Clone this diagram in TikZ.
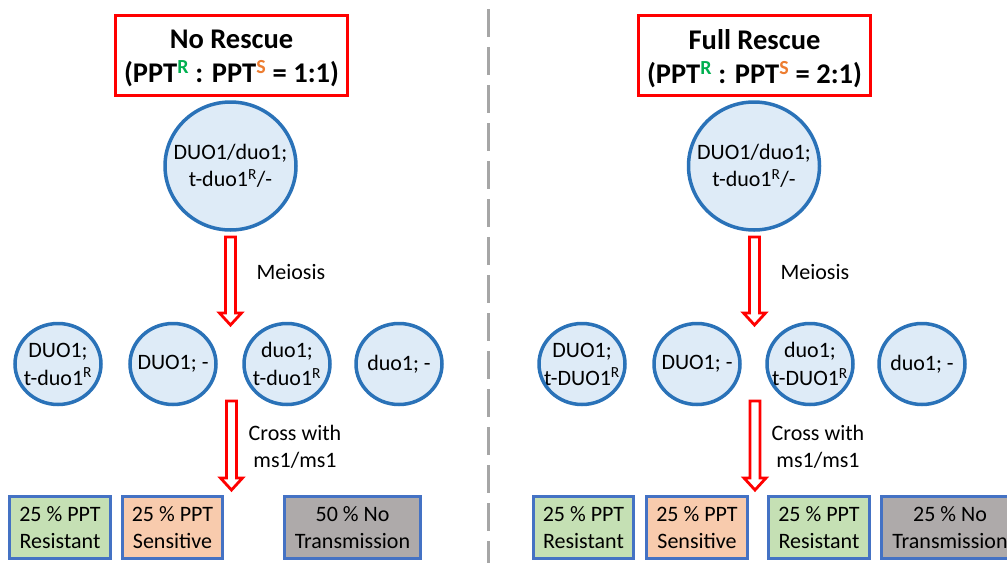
\documentclass[tikz,border=0pt]{standalone}
\usepackage{fontspec}
\setmainfont{Carlito}
\usetikzlibrary{shapes.geometric,calc}
\definecolor{circb}{HTML}{2A72B8}
\definecolor{circf}{HTML}{DEEBF7}
\definecolor{boxb}{HTML}{4472C4}
\definecolor{gfill}{HTML}{C5E0B4}
\definecolor{ofill}{HTML}{F8CBAD}
\definecolor{kfill}{HTML}{AEAAAA}
\definecolor{rgreen}{HTML}{00B050}
\definecolor{sorange}{HTML}{ED7D31}
\definecolor{dashg}{HTML}{A6A6A6}
\newcommand\blockarrow[2]{\draw[blockarr] let \p1=(#1), \p2=(#2) in
  (\x1-5pt,\y1) -- (\x1-5pt,\y2+12pt) -- (\x1-11pt,\y2+12pt) -- (\x1,\y2)
  -- (\x1+11pt,\y2+12pt) -- (\x1+5pt,\y2+12pt) -- (\x1+5pt,\y1) -- cycle;}
\tikzset{
  bodytext/.style={font=\fontsize{22}{27}\selectfont, align=center, text=black},
  titlebox/.style={draw=red, line width=3pt, minimum width=232pt, minimum height=80pt, inner sep=0pt},
  titletext/.style={align=center, font=\fontsize{28.5}{34}\selectfont\bfseries, inner sep=0pt, yshift=-3pt},
  bigcirc/.style={ellipse, draw=circb, fill=circf, line width=3.5pt, minimum width=131pt,
    minimum height=128pt, inner sep=0pt},
  smallcirc/.style={ellipse, draw=circb, fill=circf, line width=3.5pt, minimum width=86pt,
    minimum height=81pt, inner sep=0pt},
  ctext/.style={bodytext, inner sep=0pt},
  sctext/.style={bodytext, inner sep=0pt, font=\fontsize{22}{28}\selectfont},
  resbox/.style={draw=boxb, line width=3pt, minimum height=62pt, bodytext, inner sep=0pt},
  blockarr/.style={draw=red, line width=2.8pt, fill=white, line join=miter},
  lbl/.style={bodytext}
}
\begin{document}
\begin{tikzpicture}[x=1pt,y=-1pt]
\useasboundingbox (0,0) rectangle (1007,563);
\clip (0,0) rectangle (1007,563);
\fill[white] (0,0) rectangle (1007,563);
% divider
\coordinate (dtop) at (488,9);
\coordinate (dbot) at (488,563);
\draw[dashg, line width=3pt, dash pattern=on 28pt off 10pt] (dtop) -- (dbot);

% ---------------- left ----------------
\node[titlebox, label={[titletext]center:No Rescue\\(PPT\textsuperscript{\color{rgreen}R} : PPT\textsuperscript{\color{sorange}S} = 1:1)}] (t1) at (231.5,55.5) {};
\node[bigcirc, label={[ctext]center:DUO1/duo1;\\t-duo1\textsuperscript{R}/-}] (p1) at (230.5,166) {};
\coordinate (a1s) at (230.5,237);
\coordinate (a1e) at (230.5,325);
\blockarrow{a1s}{a1e}
\node[lbl, anchor=west] (m1) at (253,272) {Meiosis};
\node[smallcirc, label={[sctext]center:DUO1;\\t-duo1\textsuperscript{R}}] (g11) at (58,364) {};
\node[smallcirc, label={[sctext]center:DUO1; -}] (g12) at (173,364) {};
\node[smallcirc, label={[sctext]center:duo1;\\t-duo1\textsuperscript{R}}] (g13) at (287,364) {};
\node[smallcirc, label={[sctext]center:duo1; -}] (g14) at (399,364) {};
\coordinate (b1s) at (231.5,401);
\coordinate (b1e) at (231.5,490);
\blockarrow{b1s}{b1e}
\node[lbl] (c1) at (295,446.5) {Cross with\\ms1/ms1};
\node[resbox, fill=gfill, minimum width=101pt] (r11) at (60,527.5) {25 \% PPT\\Resistant};
\node[resbox, fill=ofill, minimum width=100pt] (r12) at (172.5,527.5) {25 \% PPT\\Sensitive};
\node[resbox, fill=kfill, minimum width=136pt] (r13) at (352.5,527.5) {50 \% No\\Transmission};

% ---------------- right ----------------
\node[titlebox, label={[titletext]center:Full Rescue\\(PPT\textsuperscript{\color{rgreen}R} : PPT\textsuperscript{\color{sorange}S} = 2:1)}] (t2) at (754.5,55.5) {};
\node[bigcirc, label={[ctext]center:DUO1/duo1;\\t-duo1\textsuperscript{R}/-}] (p2) at (754,166) {};
\coordinate (a2s) at (754.5,237);
\coordinate (a2e) at (754.5,325);
\blockarrow{a2s}{a2e}
\node[lbl, anchor=west] (m2) at (777,272) {Meiosis};
\node[smallcirc, label={[sctext]center:DUO1;\\t-DUO1\textsuperscript{R}}] (g21) at (582,364) {};
\node[smallcirc, label={[sctext]center:DUO1; -}] (g22) at (697,364) {};
\node[smallcirc, label={[sctext]center:duo1;\\t-DUO1\textsuperscript{R}}] (g23) at (810,364) {};
\node[smallcirc, label={[sctext]center:duo1; -}] (g24) at (922,364) {};
\coordinate (b2s) at (755,401);
\coordinate (b2e) at (755,490);
\blockarrow{b2s}{b2e}
\node[lbl] (c2) at (818,446.5) {Cross with\\ms1/ms1};
\node[resbox, fill=gfill, minimum width=100pt] (r21) at (583.5,527.5) {25 \% PPT\\Resistant};
\node[resbox, fill=ofill, minimum width=101pt] (r22) at (697,527.5) {25 \% PPT\\Sensitive};
\node[resbox, fill=gfill, minimum width=101pt] (r23) at (819,527.5) {25 \% PPT\\Resistant};
\node[resbox, fill=kfill, minimum width=137pt] (r24) at (950,527.5) {25 \% No\\Transmission};
\end{tikzpicture}
\end{document}
